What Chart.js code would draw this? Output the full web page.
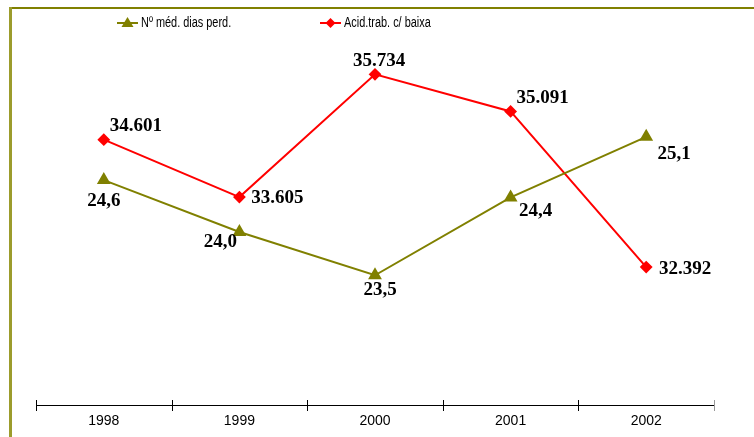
<!DOCTYPE html>
<html lang="pt">
<head>
  <meta charset="UTF-8">
  <title>Acidentes de trabalho</title>
  <script src="https://cdn.jsdelivr.net/npm/chart.js"></script>
  <style>
    html, body { margin: 0; padding: 0; background: #fff; }
    #wrap { width: 754px; height: 437px; }
  </style>
</head>
<body>
  <div id="wrap"><canvas id="acidChart" width="754" height="437"></canvas></div>

  <script>
    // dados
    const anos = ['1998', '1999', '2000', '2001', '2002'];
    const diasPerdidos = [24.6, 24.0, 23.5, 24.4, 25.1];
    const acidentesBaixa = [34601, 33605, 35734, 35091, 32392];
    const nomeDias = 'Nº méd. dias perd.';
    const nomeAcid = 'Acid.trab. c/ baixa';

    const corOliva = '#808000';
    const corVermelho = '#ff0000';

    // deslocamento dos rótulos (dx, dy) em relação ao ponto
    const offDias = [[0, 21], [-19, 10], [5, 15], [25, 14], [28, 17]];
    const offAcid = [[32, -14], [38, 1], [4, -13], [32, -13], [39, 2]];

    const fmtDias = v => v.toFixed(1).replace('.', ',');
    const fmtAcid = v => String(v).replace(/\B(?=(\d{3})+(?!\d))/g, '.');

    // moldura, eixo x, legenda e rótulos
    const extras = {
      id: 'extras',
      beforeDraw(chart) {
        const ctx = chart.ctx;
        ctx.save();
        ctx.fillStyle = '#fff';
        ctx.fillRect(0, 0, chart.width, chart.height);
        ctx.fillStyle = '#808000';
        ctx.fillRect(9, 7, chart.width - 9, 2);
        ctx.fillStyle = '#9c9c2c';
        ctx.fillRect(9, 7, 3, chart.height - 7);
        ctx.restore();
      },
      afterDraw(chart) {
        const ctx = chart.ctx;
        const x = chart.scales.x;
        const y0 = chart.chartArea.bottom;
        ctx.save();

        // eixo
        ctx.strokeStyle = '#000';
        ctx.lineWidth = 1;
        ctx.beginPath();
        ctx.moveTo(x.left, y0 + 0.5);
        ctx.lineTo(x.right, y0 + 0.5);
        ctx.stroke();
        const passo = x.width / anos.length;
        for (let i = 0; i <= anos.length; i++) {
          const px = Math.round(x.left + i * passo) + 0.5;
          ctx.strokeStyle = i === anos.length ? '#999' : '#000';
          ctx.beginPath();
          ctx.moveTo(px, y0 - 5);
          ctx.lineTo(px, y0 + 6);
          ctx.stroke();
        }

        // legenda
        const itens = [
          { x: 117, texto: nomeDias, cor: corOliva, forma: 'tri' },
          { x: 320, texto: nomeAcid, cor: corVermelho, forma: 'dia' }
        ];
        ctx.font = '14px "Liberation Sans", Arial, sans-serif';
        ctx.textBaseline = 'middle';
        itens.forEach(it => {
          const ly = 23;
          ctx.strokeStyle = it.cor;
          ctx.lineWidth = 2;
          ctx.beginPath();
          ctx.moveTo(it.x, ly);
          ctx.lineTo(it.x + 21, ly);
          ctx.stroke();
          ctx.fillStyle = it.cor;
          const cx = it.x + 10.5;
          ctx.beginPath();
          if (it.forma === 'tri') {
            ctx.moveTo(cx, ly - 6);
            ctx.lineTo(cx + 6, ly + 4);
            ctx.lineTo(cx - 6, ly + 4);
          } else {
            ctx.moveTo(cx, ly - 5);
            ctx.lineTo(cx + 5, ly);
            ctx.lineTo(cx, ly + 5);
            ctx.lineTo(cx - 5, ly);
          }
          ctx.closePath();
          ctx.fill();
          // texto estreito (Arial Narrow no original)
          ctx.fillStyle = '#000';
          ctx.textAlign = 'left';
          ctx.save();
          ctx.translate(it.x + 24, ly);
          ctx.scale(0.78, 1);
          ctx.fillText(it.texto, 0, 0);
          ctx.restore();
        });

        // rótulos dos valores
        ctx.font = 'bold 19px "Liberation Serif", "Times New Roman", serif';
        ctx.textAlign = 'center';
        ctx.fillStyle = '#000';
        const series = [
          { idx: 0, dados: diasPerdidos, off: offDias, fmt: fmtDias },
          { idx: 1, dados: acidentesBaixa, off: offAcid, fmt: fmtAcid }
        ];
        series.forEach(s => {
          const meta = chart.getDatasetMeta(s.idx);
          meta.data.forEach((pt, i) => {
            ctx.fillText(s.fmt(s.dados[i]), pt.x + s.off[i][0], pt.y + s.off[i][1]);
          });
        });
        ctx.restore();
      }
    };

    new Chart(document.getElementById('acidChart'), {
      type: 'line',
      data: {
        labels: anos,
        datasets: [{
          label: nomeDias,
          data: diasPerdidos,
          yAxisID: 'yDias',
          borderColor: corOliva,
          backgroundColor: corOliva,
          borderWidth: 2,
          pointStyle: 'triangle',
          pointRadius: 6,
          pointHoverRadius: 6,
          tension: 0
        }, {
          label: nomeAcid,
          data: acidentesBaixa,
          yAxisID: 'yAcid',
          borderColor: corVermelho,
          backgroundColor: corVermelho,
          borderWidth: 2,
          pointStyle: 'rectRot',
          pointRadius: 5,
          pointHoverRadius: 5,
          tension: 0
        }]
      },
      options: {
        responsive: false,
        animation: false,
        layout: { padding: { top: 59, left: 36, right: 40, bottom: 0 } },
        plugins: {
          legend: { display: false },
          tooltip: { enabled: false }
        },
        scales: {
          x: {
            offset: true,
            grid: { display: true, drawOnChartArea: false, drawTicks: false, offset: true },
            border: { display: false },
            ticks: {
              padding: 9,
              color: '#000',
              font: { family: '"Liberation Sans", Arial, sans-serif', size: 14, lineHeight: 1 }
            }
          },
          yDias: { display: false, min: 22, max: 26 },
          yAcid: { display: false, min: 30000, max: 36000 }
        }
      },
      plugins: [extras]
    });
  </script>
</body>
</html>
